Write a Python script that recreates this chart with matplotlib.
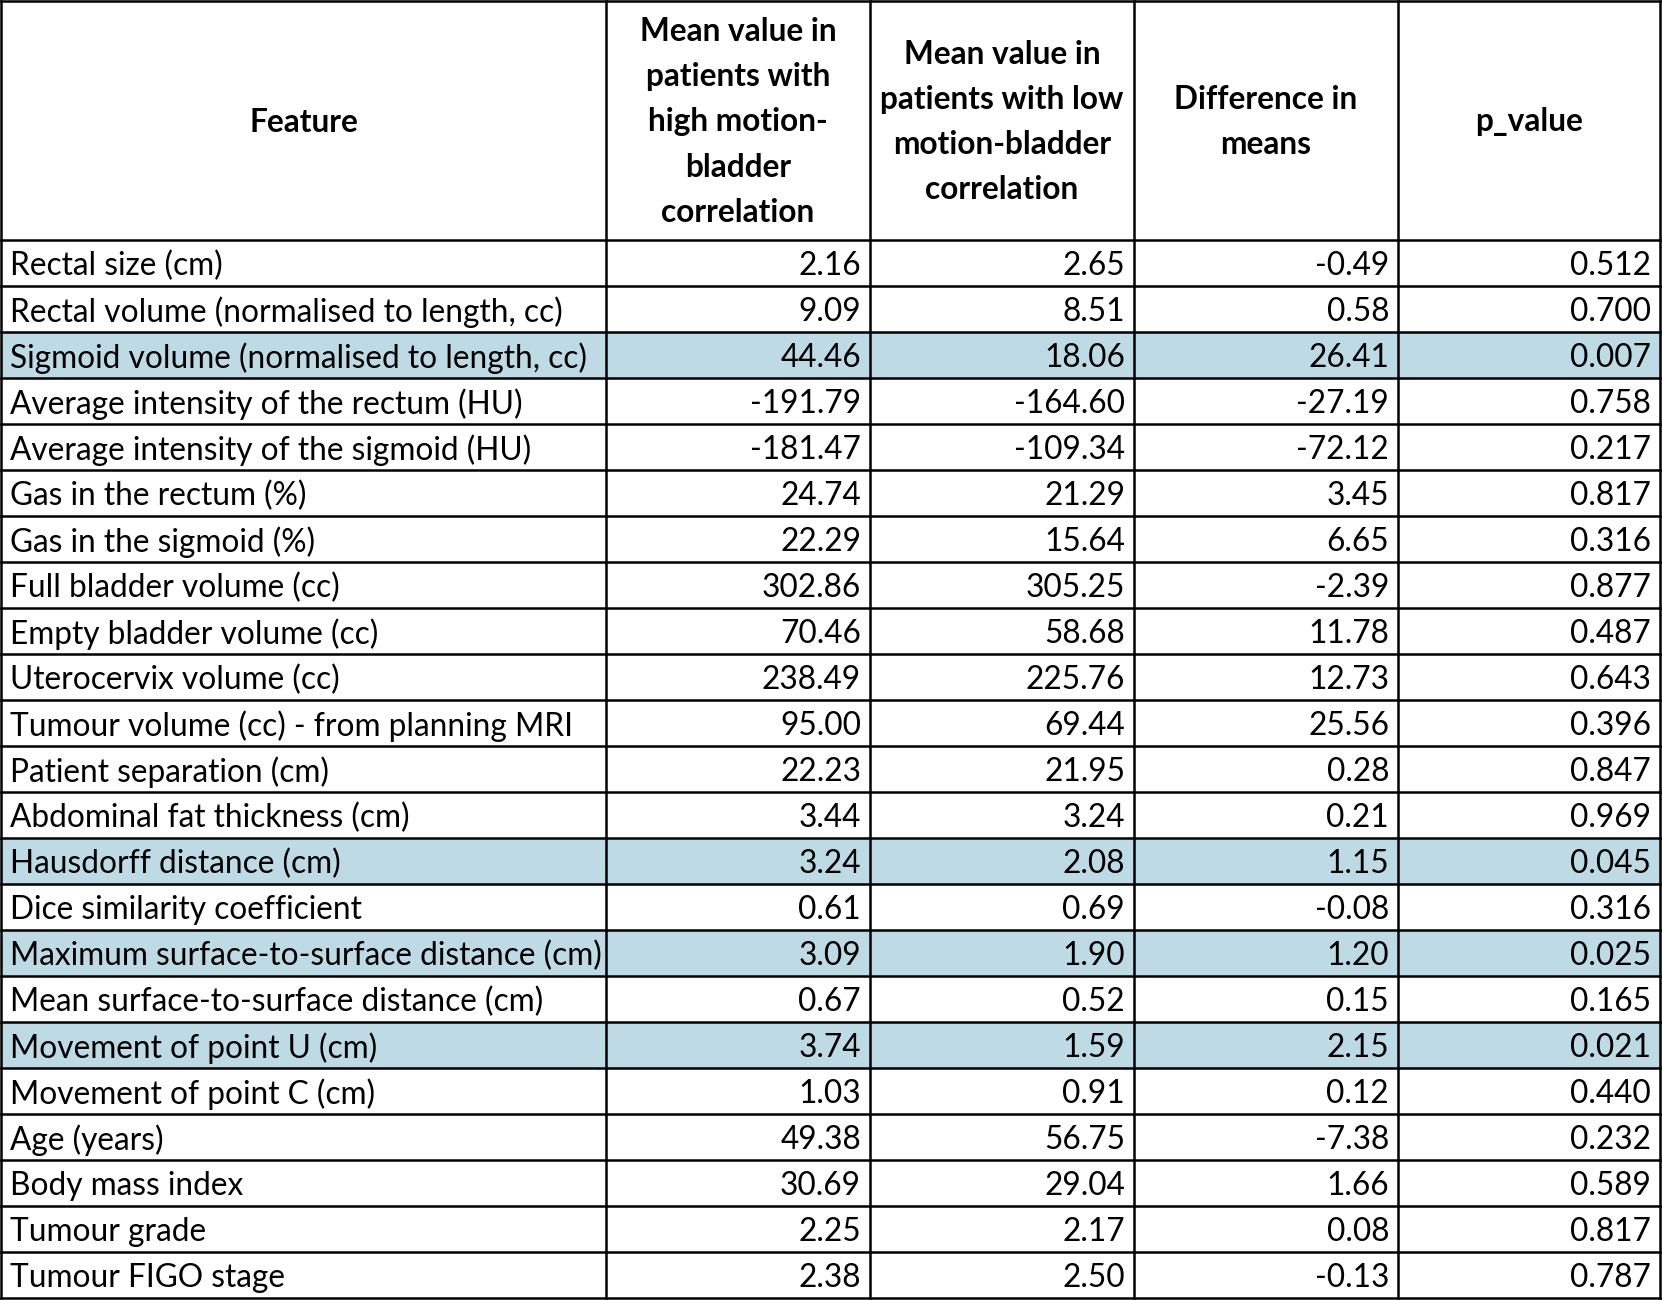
import matplotlib
matplotlib.use("Agg")
import matplotlib.pyplot as plt
from matplotlib.patches import Rectangle

plt.rcParams['font.family'] = ['Lato', 'DejaVu Sans']

# Table content
headers = ['Feature',
           'Mean value in\npatients with\nhigh motion-\nbladder\ncorrelation',
           'Mean value in\npatients with low\nmotion-bladder\ncorrelation',
           'Difference in\nmeans',
           'p_value']

features = ['Rectal size (cm)',
            'Rectal volume (normalised to length, cc)',
            'Sigmoid volume (normalised to length, cc)',
            'Average intensity of the rectum (HU)',
            'Average intensity of the sigmoid (HU)',
            'Gas in the rectum (%)',
            'Gas in the sigmoid (%)',
            'Full bladder volume (cc)',
            'Empty bladder volume (cc)',
            'Uterocervix volume (cc)',
            'Tumour volume (cc) - from planning MRI',
            'Patient separation (cm)',
            'Abdominal fat thickness (cm)',
            'Hausdorff distance (cm)',
            'Dice similarity coefficient',
            'Maximum surface-to-surface distance (cm)',
            'Mean surface-to-surface distance (cm)',
            'Movement of point U (cm)',
            'Movement of point C (cm)',
            'Age (years)',
            'Body mass index',
            'Tumour grade',
            'Tumour FIGO stage']

mean_high = [2.16, 9.09, 44.46, -191.79, -181.47, 24.74, 22.29, 302.86, 70.46,
             238.49, 95.00, 22.23, 3.44, 3.24, 0.61, 3.09, 0.67, 3.74, 1.03,
             49.38, 30.69, 2.25, 2.38]
mean_low = [2.65, 8.51, 18.06, -164.60, -109.34, 21.29, 15.64, 305.25, 58.68,
            225.76, 69.44, 21.95, 3.24, 2.08, 0.69, 1.90, 0.52, 1.59, 0.91,
            56.75, 29.04, 2.17, 2.50]
diff_means = [-0.49, 0.58, 26.41, -27.19, -72.12, 3.45, 6.65, -2.39, 11.78,
              12.73, 25.56, 0.28, 0.21, 1.15, -0.08, 1.20, 0.15, 2.15, 0.12,
              -7.38, 1.66, 0.08, -0.13]
p_values = [0.512, 0.700, 0.007, 0.758, 0.217, 0.817, 0.316, 0.877, 0.487,
            0.643, 0.396, 0.847, 0.969, 0.045, 0.316, 0.025, 0.165, 0.021,
            0.440, 0.232, 0.589, 0.817, 0.787]

# layout (pixels)
W, H = 1662, 1300
col_w = [605, 264, 264, 264, 264]
header_h = 240
row_h = 46
pad = 9
highlight = '#bedbe5'
fs = 22.8

fig = plt.figure(figsize=(W / 100, H / 100), dpi=100)
ax = fig.add_axes([0, 0, 1, 1])
ax.set_xlim(0, W)
ax.set_ylim(H, 0)
ax.axis('off')

x_edges = [1]
for w in col_w:
    x_edges.append(x_edges[-1] + w)
x_edges[-1] = W - 2

# header
for j, h in enumerate(headers):
    xc = (x_edges[j] + x_edges[j + 1]) / 2
    ax.text(xc, header_h / 2 + 2, h, ha='center', va='center', fontsize=fs,
            fontweight='bold', linespacing=1.67, color='black')

# body rows
for i in range(len(features)):
    y0 = header_h + i * row_h
    if p_values[i] < 0.05:
        ax.add_patch(Rectangle((x_edges[0], y0), x_edges[-1] - x_edges[0], row_h,
                               facecolor=highlight, edgecolor='none', zorder=0))
    yc = y0 + row_h / 2 + 3
    ax.text(x_edges[0] + pad, yc, features[i], ha='left', va='center', fontsize=fs)
    vals = ['%.2f' % mean_high[i], '%.2f' % mean_low[i],
            '%.2f' % diff_means[i], '%.3f' % p_values[i]]
    for j, v in enumerate(vals):
        ax.text(x_edges[j + 2] - pad, yc, v, ha='right', va='center', fontsize=fs)

# grid lines
bottom = header_h + len(features) * row_h
for x in x_edges:
    ax.plot([x, x], [1, bottom], color='black', lw=1.8, solid_capstyle='projecting')
ys = [1, header_h] + [header_h + (i + 1) * row_h for i in range(len(features))]
for y in ys:
    ax.plot([x_edges[0], x_edges[-1]], [y, y], color='black', lw=1.8,
            solid_capstyle='projecting')

fig.savefig('out.png', dpi=100, facecolor='white')
